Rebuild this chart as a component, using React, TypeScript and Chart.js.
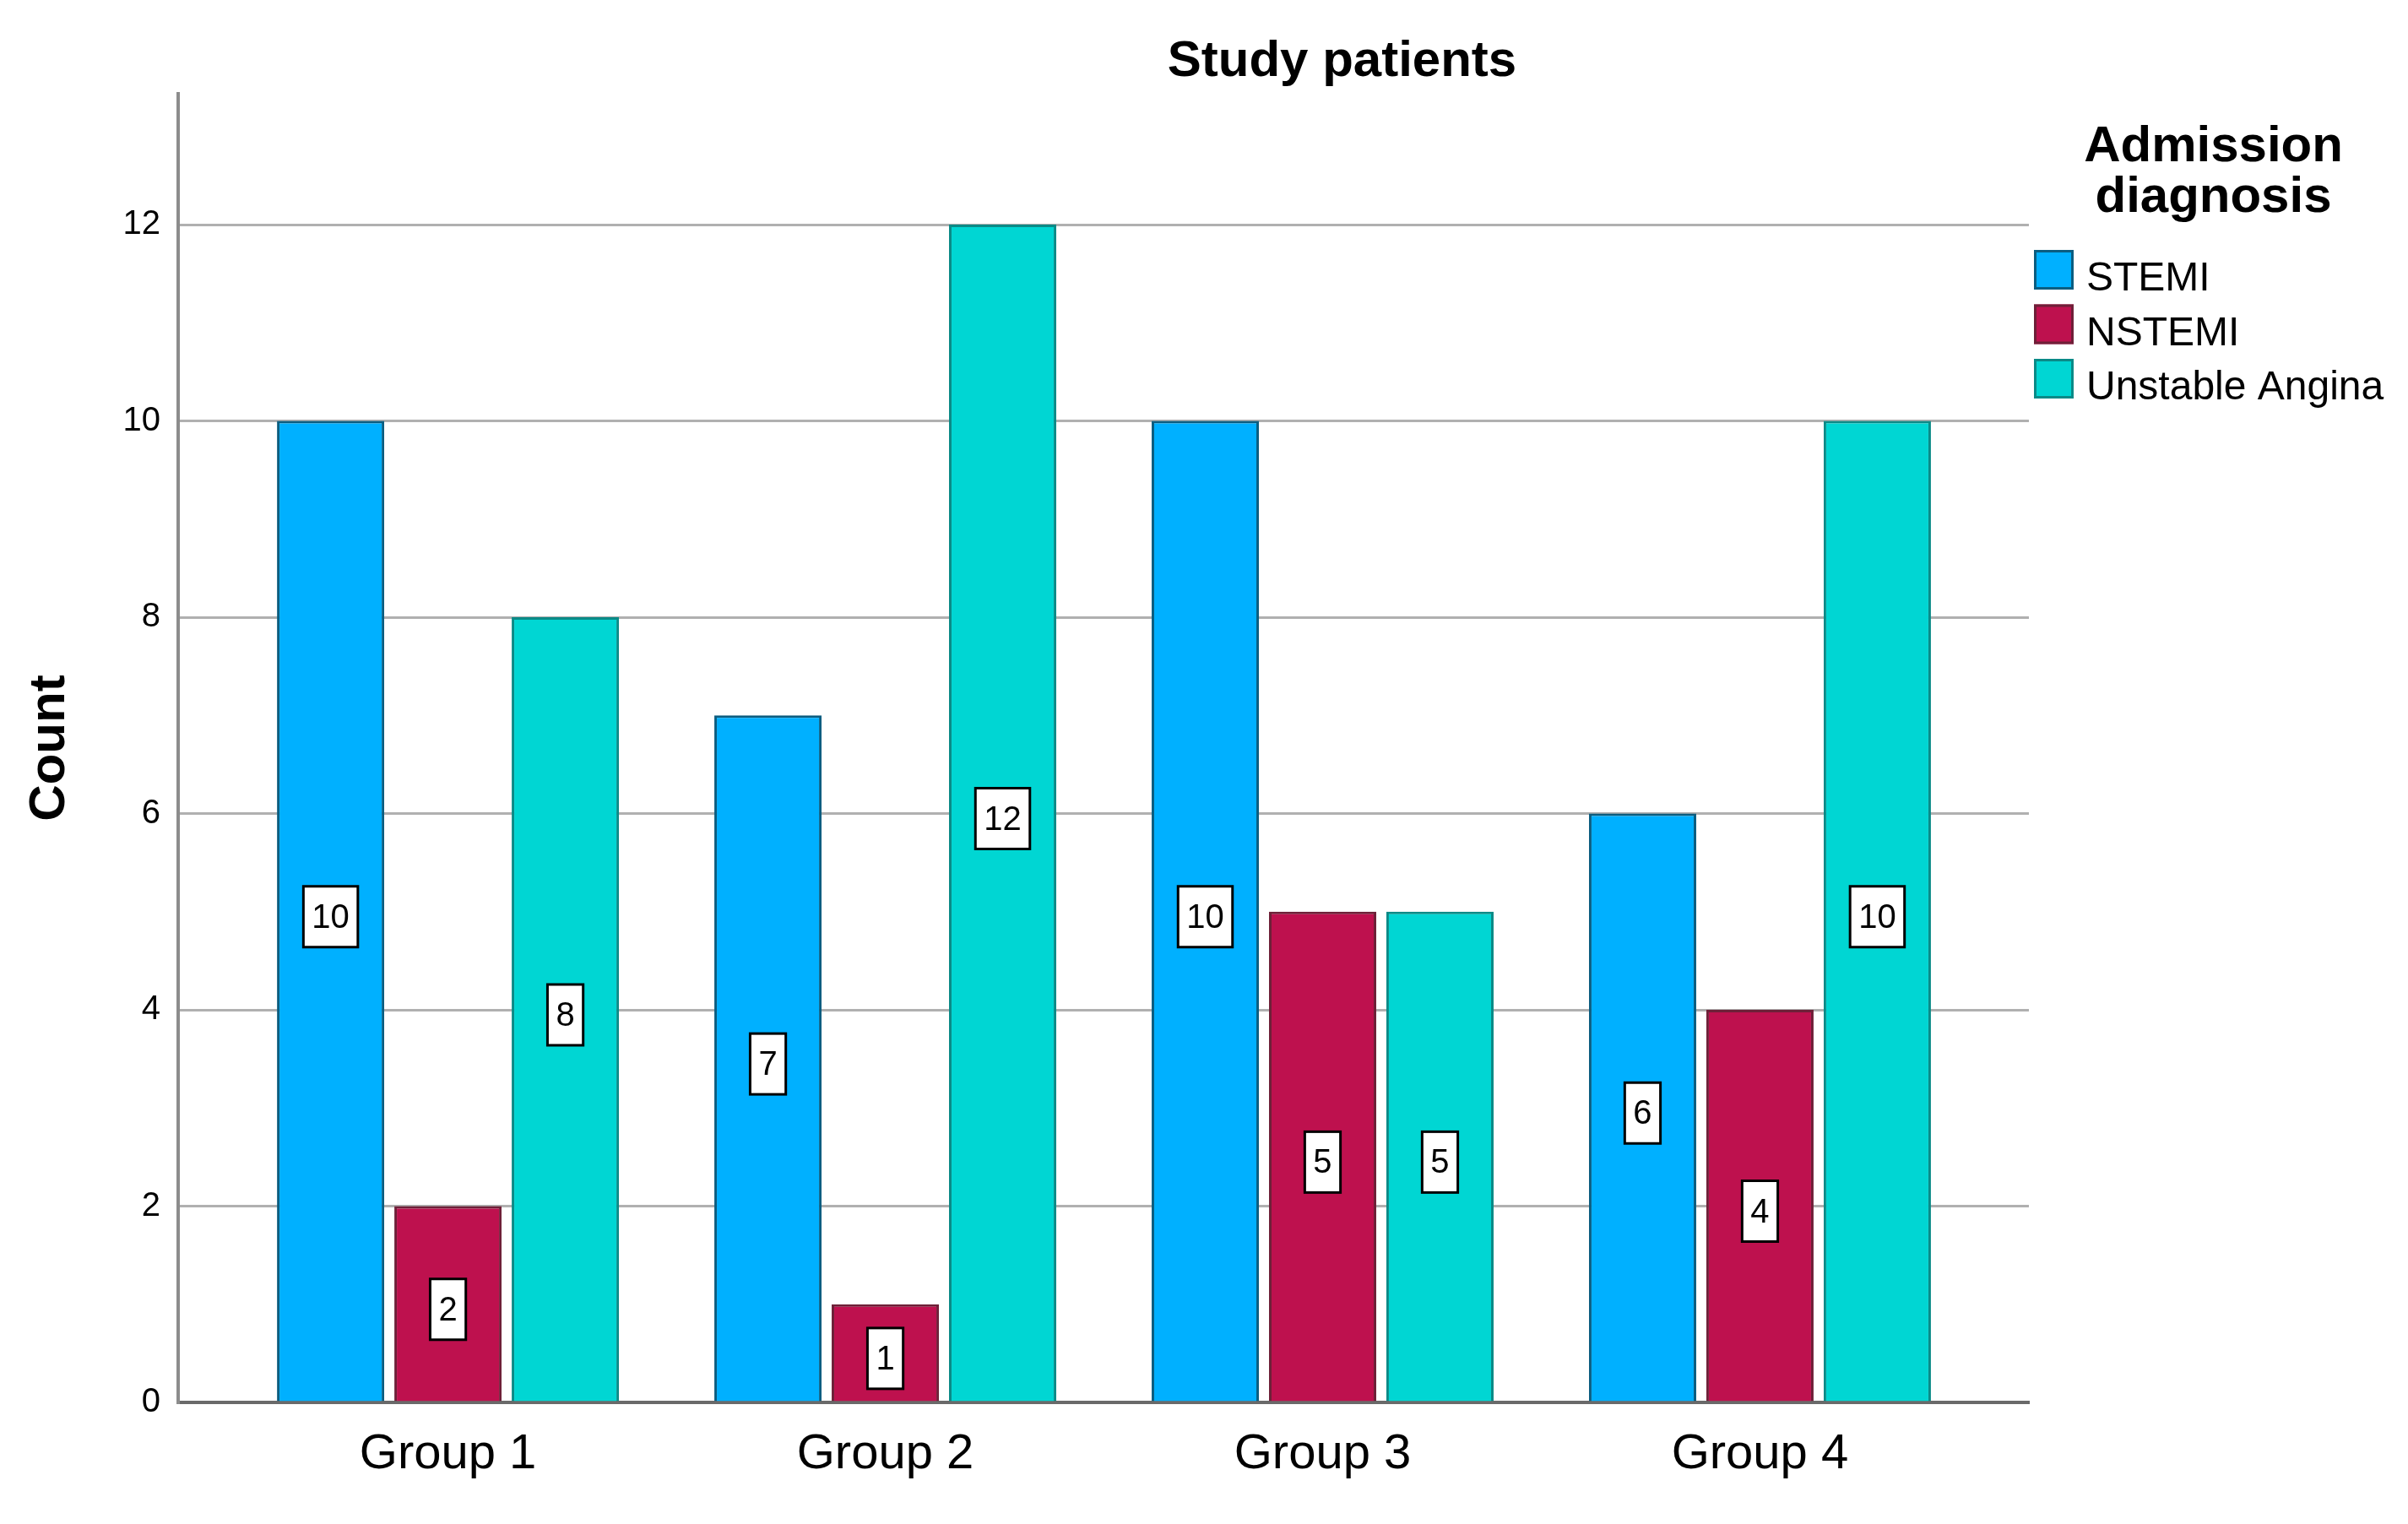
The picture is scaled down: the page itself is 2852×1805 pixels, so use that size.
import React, { useEffect, useRef } from 'react';
import { Chart, registerables } from 'chart.js';

Chart.register(...registerables);

const categories = ['Group 1', 'Group 2', 'Group 3', 'Group 4'];
const seriesNames = ['STEMI', 'NSTEMI', 'Unstable Angina'];
const stemi = [10, 7, 10, 6];
const nstemi = [2, 1, 5, 4];
const unstableAngina = [8, 12, 5, 10];
const yTicks = [0, 2, 4, 6, 8, 10, 12];
const chartTitle = 'Study patients';
const legendTitle = ['Admission', 'diagnosis'];
const yAxisTitle = 'Count';

const fillColors = ['#00B0FF', '#BE114E', '#00D6D3'];
const borderColors = ['#0b5d80', '#6e2038', '#0a8a87'];
const FONT = '"Liberation Sans", Arial, sans-serif';

const overlayPlugin = {
  id: 'overlay',
  afterDatasetsDraw(chart: any) {
    const ctx = chart.ctx;
    const yScale = chart.scales.y;
    ctx.save();
    ctx.font = `40px ${FONT}`;
    ctx.textAlign = 'center';
    ctx.textBaseline = 'middle';
    chart.data.datasets.forEach((ds: any, di: number) => {
      const meta = chart.getDatasetMeta(di);
      meta.data.forEach((el: any, i: number) => {
        const v = ds.data[i].y;
        const text = String(v);
        const tw = ctx.measureText(text).width;
        const w = tw + 20;
        const h = 72;
        const cx = el.x;
        const cy = yScale.getPixelForValue(v / 2) + 6;
        ctx.fillStyle = '#ffffff';
        ctx.fillRect(cx - w / 2, cy - h / 2, w, h);
        ctx.lineWidth = 3;
        ctx.strokeStyle = '#000000';
        ctx.strokeRect(cx - w / 2, cy - h / 2, w, h);
        ctx.fillStyle = '#000000';
        ctx.fillText(text, cx, cy + 2);
      });
    });
    ctx.restore();
  },
  afterDraw(chart: any) {
    const ctx = chart.ctx;
    ctx.save();
    ctx.fillStyle = '#000';
    ctx.font = `bold 60px ${FONT}`;
    ctx.textAlign = 'center';
    ctx.textBaseline = 'alphabetic';
    ctx.fillText(chartTitle, 1581.5, 82);
    ctx.fillText(legendTitle[0], 2613.5, 183);
    ctx.fillText(legendTitle[1], 2613.5, 243);
    const tops = [288, 352.5, 417];
    ctx.textAlign = 'left';
    ctx.font = `48px ${FONT}`;
    chart.data.datasets.forEach((ds: any, i: number) => {
      const top = tops[i];
      ctx.fillStyle = ds.backgroundColor;
      ctx.fillRect(2401, top, 47, 47);
      ctx.lineWidth = 3;
      ctx.strokeStyle = ds.borderColor;
      ctx.strokeRect(2402.5, top + 1.5, 44, 44);
      ctx.fillStyle = '#000';
      ctx.fillText(ds.label, 2463, top + 48);
    });
    ctx.restore();
  },
};

export default function App() {
  const canvasRef = useRef<HTMLCanvasElement | null>(null);

  useEffect(() => {
    if (!canvasRef.current) return;
    const series = [stemi, nstemi, unstableAngina];
    const chart = new Chart(canvasRef.current, {
      type: 'bar',
      data: {
        datasets: series.map((vals, si) => ({
          label: seriesNames[si],
          data: categories.map((_, i) => ({ x: i, y: vals[i] })),
          backgroundColor: fillColors[si],
          borderColor: borderColors[si],
          borderWidth: { left: 3, top: 3, right: 3, bottom: 0 },
          borderSkipped: false,
          categoryPercentage: 0.805,
          barPercentage: 0.914,
        })),
      },
      options: {
        animation: false,
        responsive: true,
        maintainAspectRatio: false,
        layout: { padding: { top: 103, right: 441, left: 0, bottom: 0 } },
        plugins: {
          legend: { display: false },
          title: { display: false },
          tooltip: { enabled: false },
        },
        scales: {
          x: {
            type: 'linear',
            offset: false,
            min: -0.617,
            max: 3.615,
            afterBuildTicks: (axis: any) => {
              axis.ticks = categories.map((_, i) => ({ value: i }));
            },
            afterFit: (scale: any) => {
              scale.height = 136;
            },
            ticks: {
              callback: (v: any) => categories[v] ?? '',
              font: { family: FONT, size: 58, lineHeight: 1.2 },
              color: '#000',
              padding: 27,
              maxRotation: 0,
              autoSkip: false,
            },
            grid: { display: false, drawTicks: false, offset: false },
            border: { display: true, color: '#6a6a6a', width: 4 },
          },
          y: {
            min: 0,
            max: 40 / 3,
            afterBuildTicks: (axis: any) => {
              axis.ticks = yTicks.map((v) => ({ value: v }));
            },
            afterFit: (scale: any) => {
              scale.width = 203;
            },
            ticks: {
              font: { family: FONT, size: 40 },
              color: '#000',
              padding: 21,
            },
            grid: { color: '#b0b0b0', lineWidth: 3, drawTicks: false },
            border: { display: true, color: '#8c8c8c', width: 4 },
            title: {
              display: true,
              text: yAxisTitle,
              color: '#000',
              font: { family: FONT, size: 60, weight: 'bold', lineHeight: 1 },
              padding: { top: 21, bottom: 0 },
            },
          },
        },
      },
      plugins: [overlayPlugin],
    });
    return () => chart.destroy();
  }, []);

  return (
    <div style={{ position: 'relative', width: '2836px', height: '1789px' }}>
      <canvas ref={canvasRef} />
    </div>
  );
}
